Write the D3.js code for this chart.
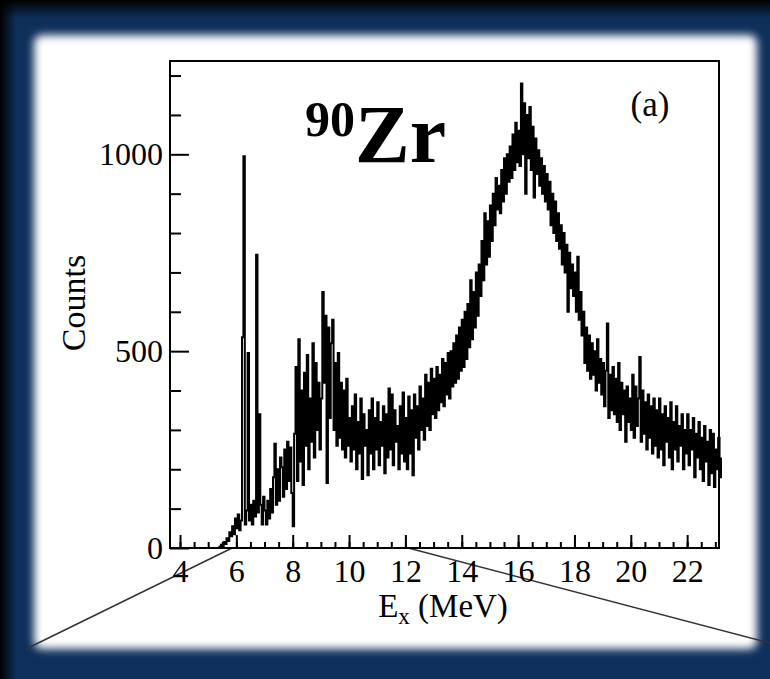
<!DOCTYPE html>
<html>
<head>
<meta charset="utf-8">
<script src="https://cdn.jsdelivr.net/npm/d3@7"></script>
<style>
  body { margin: 0; background: #0e2f5a; }
  svg { display: block; }
  text { font-family: "Liberation Serif", "Times New Roman", serif; fill: #000; }
</style>
</head>
<body>
<div id="chart"></div>
<script>
// histogram: first bin at binStart (MeV), bins binWidth wide
const binStart = 5.30;
const binWidth = 0.05;

// counts, one row per MeV
const counts = [
    // 5.30 - 5.95
    0, 0, 3, 8, 5, 15, 10, 25, 18, 40, 30, 55, 35, 75,
    // 6.00 - 6.95
    50, 85, 45, 70, 535, 995, 60, 95, 495, 70, 110, 60, 120, 80, 745, 90, 340, 110, 60, 130,
    // 7
    95, 60, 120, 75, 150, 90, 180, 265, 110, 200, 120, 230, 205, 130, 250, 150, 270, 170, 255, 140,
    // 8
    55, 290, 460, 170, 530, 220, 400, 160, 445, 260, 490, 200, 380, 270, 520, 230, 470, 300, 420, 250,
    // 9
    380, 650, 420, 590, 165, 560, 330, 520, 580, 300, 470, 260, 495, 280, 420, 250, 400, 230, 430, 260,
    // 10
    330, 220, 360, 250, 390, 200, 320, 240, 380, 175, 340, 260, 300, 185, 350, 240, 380, 200, 330, 250,
    // 11
    370, 210, 320, 260, 360, 190, 340, 230, 405, 250, 390, 210, 350, 270, 310, 200, 360, 240, 395, 220,
    // 12
    330, 200, 385, 240, 350, 185, 390, 280, 360, 250, 410, 300, 380, 275, 440, 310, 420, 300, 455, 340,
    // 13
    430, 330, 460, 350, 440, 370, 480, 360, 470, 390, 495, 380, 500, 410, 520, 420, 540, 430, 560, 450,
    // 14
    580, 460, 600, 480, 620, 510, 680, 530, 650, 560, 700, 590, 720, 640, 780, 680, 850, 720, 830, 740,
    // 15
    870, 780, 900, 820, 940, 860, 920, 850, 960, 880, 990, 900, 1000, 930, 1020, 940, 1050, 960, 1080, 980,
    // 16
    1060, 970, 1180, 1000, 1130, 900, 1100, 990, 1120, 960, 1070, 890, 1040, 950, 1010, 920, 990, 900, 970, 880,
    // 17
    950, 860, 930, 820, 900, 800, 880, 780, 850, 760, 820, 720, 800, 700, 770, 600, 750, 660, 720, 640,
    // 18
    700, 600, 740, 580, 650, 540, 600, 470, 560, 450, 540, 430, 520, 440, 500, 400, 530, 420, 480, 390,
    // 19
    470, 360, 450, 570, 330, 440, 350, 460, 340, 430, 320, 470, 300, 420, 340, 400, 270, 410, 320, 380,
    // 20
    300, 440, 280, 410, 310, 380, 485, 270, 400, 290, 370, 250, 390, 280, 360, 240, 380, 260, 350, 230,
    // 21
    380, 250, 340, 210, 360, 270, 330, 230, 370, 200, 320, 250, 360, 220, 310, 260, 340, 200, 300, 240,
    // 22 - 23.20
    340, 210, 300, 250, 330, 180, 290, 230, 320, 200, 280, 170, 310, 220, 270, 160, 300, 190, 290, 155,
    250, 200, 280, 180, 230
];

const xMajorTicks = [4, 6, 8, 10, 12, 14, 16, 18, 20, 22];
const xMinorTicks = [4, 4.5, 5, 5.5, 6, 6.5, 7, 7.5, 8, 8.5, 9, 9.5, 10, 10.5, 11, 11.5, 12, 12.5, 13, 13.5,
    14, 14.5, 15, 15.5, 16, 16.5, 17, 17.5, 18, 18.5, 19, 19.5, 20, 20.5, 21, 21.5, 22, 22.5, 23];
const yMajorTicks = [0, 500, 1000];
const yMinorTicks = [100, 200, 300, 400, 600, 700, 800, 900, 1100, 1200];

// the two zoom-guide lines start on the energy axis here
const zoomFrom = 5.85, zoomTo = 12.1;

const W = 770, H = 679;
const margin = { top: 61, left: 170, right: 51, bottom: 131 },
    width = W - margin.left - margin.right,
    height = H - margin.top - margin.bottom;

const svg = d3.select("#chart").append("svg")
    .attr("width", W)
    .attr("height", H);

const defs = svg.append("defs");
defs.append("filter").attr("id", "soft")
    .attr("x", "-5%").attr("y", "-5%").attr("width", "110%").attr("height", "110%")
    .append("feGaussianBlur").attr("stdDeviation", 4.5);
const gl = defs.append("linearGradient").attr("id", "shadeLeft");
gl.append("stop").attr("offset", "0").attr("stop-color", "#000").attr("stop-opacity", 1);
gl.append("stop").attr("offset", "1").attr("stop-color", "#000").attr("stop-opacity", 0);
const gt = defs.append("linearGradient").attr("id", "shadeTop")
    .attr("x1", 0).attr("y1", 0).attr("x2", 0).attr("y2", 1);
gt.append("stop").attr("offset", "0").attr("stop-color", "#000").attr("stop-opacity", 1);
gt.append("stop").attr("offset", "1").attr("stop-color", "#000").attr("stop-opacity", 0);

// frame
svg.append("rect").attr("width", W).attr("height", H).attr("fill", "#0e2f5a");
svg.append("rect").attr("width", 16).attr("height", H).attr("fill", "url(#shadeLeft)");
svg.append("rect").attr("width", W).attr("height", 18).attr("fill", "url(#shadeTop)");
svg.append("rect")
    .attr("x", 34).attr("y", 35)
    .attr("width", 723).attr("height", 614)
    .attr("rx", 8)
    .attr("fill", "#fff")
    .attr("filter", "url(#soft)");

const g = svg.append("g")
    .attr("transform", "translate(" + margin.left + "," + margin.top + ")");

const xScale = d3.scaleLinear().domain([3.645, 23.13]).range([0, width]);
const yScale = d3.scaleLinear().domain([0, 1237]).range([height, 0]);

// zoom guide lines
g.append("line")
    .attr("x1", 26 - margin.left).attr("y1", 649 - margin.top)
    .attr("x2", xScale(zoomFrom)).attr("y2", height)
    .attr("stroke", "#333").attr("stroke-width", 1.5);
g.append("line")
    .attr("x1", xScale(zoomTo)).attr("y1", height)
    .attr("x2", W - margin.left).attr("y2", 643 - margin.top)
    .attr("stroke", "#333").attr("stroke-width", 1.5);

const data = counts.map((c, i) => ({ e: binStart + i * binWidth, c }));

const line = d3.line()
    .x((d) => xScale(d.e))
    .y((d) => yScale(d.c))
    .curve(d3.curveStepAfter);

g.append("path")
    .attr("class", "spectrum")
    .attr("fill", "none")
    .attr("stroke", "#000")
    .attr("stroke-width", 2)
    .attr("d", line(data));

// axes, ticks point inwards
const xMinor = d3.axisBottom(xScale).tickValues(xMinorTicks).tickSize(-6).tickFormat("");
const xMajor = d3.axisBottom(xScale).tickValues(xMajorTicks).tickSize(-13).tickPadding(11)
    .tickFormat((d) => d);
const yMinor = d3.axisLeft(yScale).tickValues(yMinorTicks).tickSize(-11).tickFormat("");
const yMajor = d3.axisLeft(yScale).tickValues(yMajorTicks).tickSize(-19).tickPadding(7)
    .tickFormat((d) => d);

[
    g.append("g").attr("transform", "translate(0," + height + ")").call(xMinor),
    g.append("g").attr("transform", "translate(0," + height + ")").call(xMajor),
    g.append("g").call(yMinor),
    g.append("g").call(yMajor),
].forEach((ax) => {
    ax.select(".domain").remove();
    ax.selectAll(".tick line").attr("stroke", "#000").attr("stroke-width", 2);
    ax.selectAll("text")
        .attr("font-family", "Liberation Serif")
        .attr("font-size", 32)
        .attr("fill", "#000");
});

g.append("rect")
    .attr("width", width)
    .attr("height", height)
    .attr("fill", "none")
    .attr("stroke", "#000")
    .attr("stroke-width", 2);

// labels
g.append("text")
    .attr("transform", "translate(" + (73 - margin.left) + "," + (303 - margin.top) + ") rotate(-90)")
    .attr("text-anchor", "middle")
    .attr("dy", "0.35em")
    .attr("font-size", 34)
    .text("Counts");

const xl = g.append("text")
    .attr("x", 443 - margin.left)
    .attr("y", 617 - margin.top)
    .attr("text-anchor", "middle")
    .attr("font-size", 33);
xl.append("tspan").text("E");
xl.append("tspan").attr("font-size", 23).attr("dy", 7).text("x");
xl.append("tspan").attr("dy", -7).text(" (MeV)");

const iso = g.append("text")
    .attr("x", 305 - margin.left)
    .attr("y", 162 - margin.top)
    .attr("font-weight", "bold");
iso.append("tspan").attr("font-size", 50).attr("dy", -26).text("90");
iso.append("tspan").attr("font-size", 82).attr("dy", 26).text("Zr");

g.append("text")
    .attr("x", 650 - margin.left)
    .attr("y", 116 - margin.top)
    .attr("text-anchor", "middle")
    .attr("font-size", 35)
    .text("(a)");
</script>
</body>
</html>
